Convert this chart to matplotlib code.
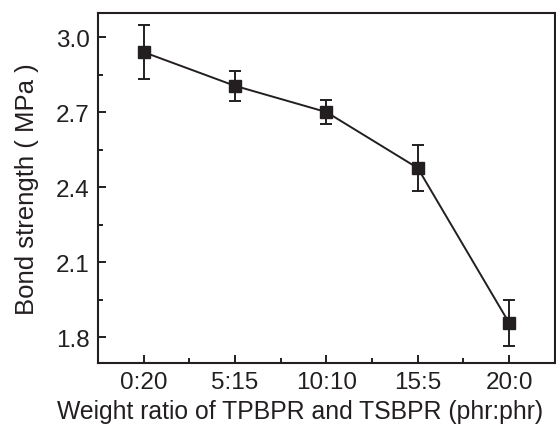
import matplotlib.pyplot as plt
from matplotlib.ticker import MultipleLocator

plt.rcParams['font.family'] = ['Liberation Sans', 'DejaVu Sans']

# data
ratios = ['0:20', '5:15', '10:10', '15:5', '20:0']
strength = [2.94, 2.805, 2.70, 2.476, 1.856]
strength_err = [0.108, 0.06, 0.048, 0.093, 0.092]

fig = plt.figure(figsize=(5.56, 4.27), dpi=100)
ax = fig.add_axes([0.176, 0.1475, 0.822, 0.8195])

x = list(range(len(ratios)))
ax.errorbar(x, strength, yerr=strength_err, color='#231f20', marker='s',
            markersize=8.5, linewidth=1.4, elinewidth=1.4, capsize=4, capthick=1.4)

ax.set_xlim(-0.5, 4.5)
ax.set_ylim(1.696, 3.096)
ax.set_xticks(x)
ax.set_xticklabels(ratios)
ax.xaxis.set_minor_locator(MultipleLocator(0.5))
ax.yaxis.set_minor_locator(MultipleLocator(0.15))
ax.set_yticks([1.8, 2.1, 2.4, 2.7, 3.0])
ax.set_yticklabels(['1.8', '2.1', '2.4', '2.7', '3.0'])

ax.tick_params(which='both', direction='in', top=False, right=False,
               labelsize=17.5, width=1.4, colors='#231f20')
ax.tick_params(which='major', length=6, pad=6)
ax.tick_params(which='minor', length=3.5)
for s in ax.spines.values():
    s.set_linewidth(1.5)
    s.set_color('#231f20')

ax.set_xlabel('Weight ratio of TPBPR and TSBPR (phr:phr)', fontsize=17.8,
              color='#231f20')
ax.xaxis.set_label_coords(0.442, -0.104, transform=ax.transAxes)
ax.xaxis.label.set_va('top')
ax.set_ylabel('Bond strength ( MPa )', fontsize=18.5, color='#231f20', labelpad=12)

fig.savefig('out.png', dpi=100)
